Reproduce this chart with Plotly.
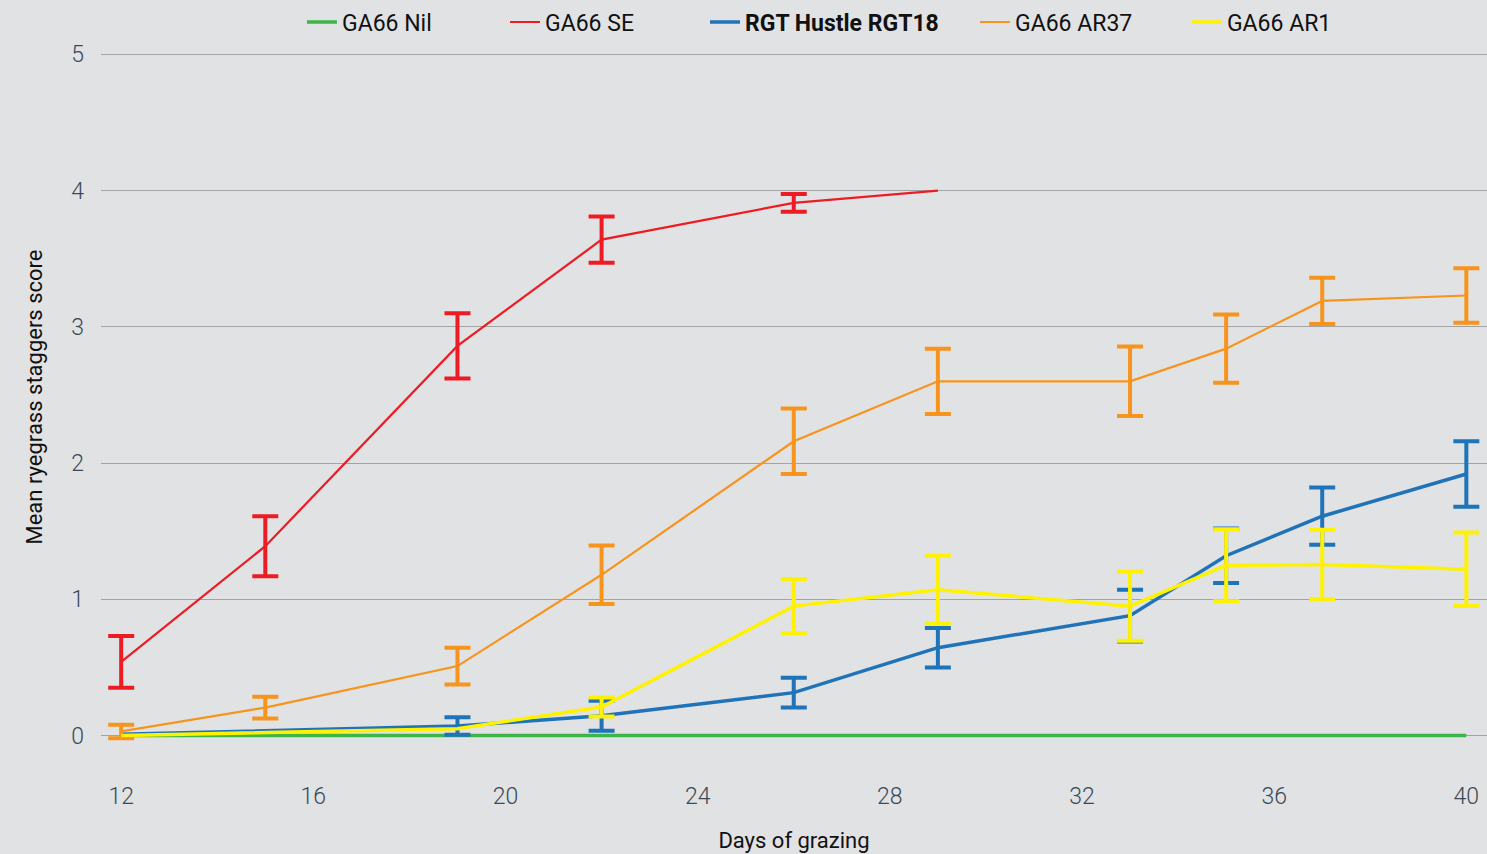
import plotly.graph_objects as go

days_nil = [12, 15, 19, 22, 26, 29, 33, 35, 37, 40]
nil_vals = [0, 0, 0, 0, 0, 0, 0, 0, 0, 0]

days_se = [12, 15, 19, 22, 26, 29]
se_vals = [0.54, 1.39, 2.86, 3.64, 3.91, 4.0]
se_err = [0.19, 0.22, 0.24, 0.17, 0.065, None]

days_rgt = [12, 19, 22, 26, 29, 33, 35, 37, 40]
rgt_vals = [0.01, 0.07, 0.145, 0.315, 0.645, 0.88, 1.32, 1.61, 1.92]
rgt_err = [None, 0.065, 0.11, 0.11, 0.145, 0.19, 0.2, 0.21, 0.24]

days_ar37 = [12, 15, 19, 22, 26, 29, 33, 35, 37, 40]
ar37_vals = [0.03, 0.205, 0.51, 1.18, 2.16, 2.6, 2.6, 2.84, 3.19, 3.23]
ar37_err = [0.05, 0.08, 0.135, 0.215, 0.24, 0.24, 0.255, 0.25, 0.17, 0.2]

days_ar1 = [12, 19, 22, 26, 29, 33, 35, 37, 40]
ar1_vals = [0.0, 0.05, 0.21, 0.95, 1.07, 0.95, 1.25, 1.255, 1.22]
ar1_err = [None, None, 0.07, 0.2, 0.25, 0.255, 0.265, 0.255, 0.27]

x_ticks = [12, 16, 20, 24, 28, 32, 36, 40]
y_ticks = [0, 1, 2, 3, 4, 5]

FONT = "Roboto, Noto Sans, sans-serif"

# name, x, y, err, color, line width, legend id, legend x (paper)
series = [
    ("GA66 Nil", days_nil, nil_vals, None, "#3db54a", 3.5, "legend", 0.1450),
    ("GA66 SE", days_se, se_vals, se_err, "#ed1c24", 2.2, "legend2", 0.2915),
    ("<b>RGT Hustle RGT18</b>", days_rgt, rgt_vals, rgt_err, "#1f73b8", 3.5, "legend3", 0.4358),
    ("GA66 AR37", days_ar37, ar37_vals, ar37_err, "#f7941d", 2.2, "legend4", 0.6306),
    ("GA66 AR1", days_ar1, ar1_vals, ar1_err, "#fff200", 3.5, "legend5", 0.7835),
]

fig = go.Figure()
legend_layouts = {}
for name, xs, ys, err, color, w, lg, lx in series:
    fig.add_trace(go.Scatter(x=xs, y=ys, name=name, mode="lines", legend=lg,
                             line=dict(color=color, width=w)))
    if err is not None:
        idx = [i for i, e in enumerate(err) if e is not None]
        fig.add_trace(go.Scatter(
            x=[xs[i] for i in idx], y=[ys[i] for i in idx], mode="markers",
            marker=dict(size=1, opacity=0), showlegend=False, hoverinfo="skip",
            error_y=dict(type="data", array=[err[i] for i in idx], visible=True,
                         color=color, thickness=4, width=13)))
    legend_layouts[lg] = dict(orientation="h", x=lx, xanchor="left", y=1.045,
                              yanchor="middle", font=dict(size=23, color="#111"),
                              bgcolor="rgba(0,0,0,0)", itemwidth=30)

fig.update_layout(
    width=1487, height=854,
    paper_bgcolor="#e1e2e4", plot_bgcolor="#e1e2e4",
    margin=dict(l=101, r=0, t=53, b=113, autoexpand=False),
    font=dict(family=FONT, size=22, color="#111"),
    showlegend=True,
    **legend_layouts,
)
fig.update_xaxes(range=[11.58, 40.43], tickvals=x_ticks, showgrid=False, zeroline=False,
                 showline=False, ticks="", ticklabelstandoff=39,
                 tickfont=dict(size=23, color="#3a4a55", weight=300),
                 title=dict(text="Days of grazing", standoff=23,
                            font=dict(size=22, color="#111")))
fig.update_yaxes(range=[-0.04, 5.01], tickvals=y_ticks, showgrid=True, gridcolor="#a2a3a7",
                 gridwidth=1.3, zeroline=False, showline=False, ticks="",
                 ticklabelstandoff=16, tickfont=dict(size=23, color="#3a4a55", weight=300),
                 title=dict(text="Mean ryegrass staggers score", standoff=22,
                            font=dict(size=22, color="#111")))

fig.write_html("out.html", config={"displayModeBar": False},
               post_script="document.body.style.margin='0';")
